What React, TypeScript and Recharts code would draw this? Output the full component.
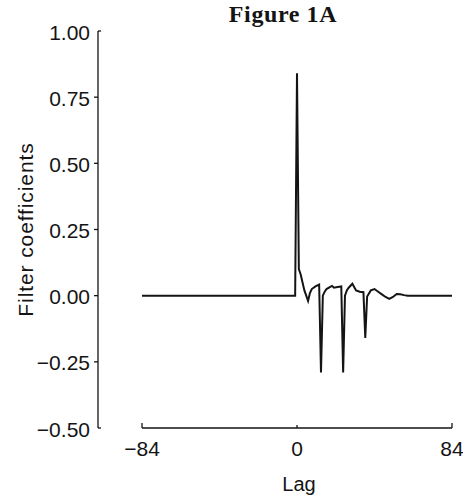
import { Line, LineChart, XAxis, YAxis } from "recharts";

// lag positions and the filter coefficients
const lags = [
  -84, -1, 0, 1, 2, 3, 4, 5, 6, 7, 8,
  10, 12, 13, 14, 15, 16, 18, 19, 20, 22, 24, 25,
  26, 27, 28, 30, 32, 34, 36, 37, 38,
  40, 42, 44, 46, 48, 50, 52, 54, 56, 58, 60, 84,
];
const coefficients = [
  0, 0, 0.84, 0.1, 0.08, 0.05, 0.02, 0.0, -0.02, 0.01, 0.025,
  0.035, 0.042, -0.29, 0.0, 0.015, 0.025, 0.033, 0.037, 0.03, 0.033, 0.035, -0.29,
  0.0, 0.02, 0.03, 0.045, 0.02, 0.015, 0.013, -0.16, -0.003,
  0.02, 0.025, 0.015, 0.005, -0.005, -0.012, -0.005, 0.006, 0.005, 0.002, 0, 0,
];
const xTicks = [-84, 0, 84];
const yTicks = [-0.5, -0.25, 0, 0.25, 0.5, 0.75, 1];

const data = lags.map((lag, i) => ({ lag, value: coefficients[i] }));

const SANS = '"Liberation Sans", Arial, Helvetica, sans-serif';
const SERIF = '"Liberation Serif", "Times New Roman", Times, serif';
const INK = "#141414";

function signed(v: number, digits: number) {
  const s = Math.abs(v).toFixed(digits);
  return v < 0 ? "\u2212" + s : s;
}

type TickProps = { x?: number; y?: number; payload?: { value: number } };

function LagTick({ x = 0, y = 0, payload }: TickProps) {
  const v = payload?.value ?? 0;
  const hook = v === 0 ? 3 : 5;
  return (
    <g>
      <line x1={x} y1={y} x2={x} y2={y - hook} stroke={INK} strokeWidth={1.3} />
      <text x={x} y={y + 28} textAnchor="middle" fontSize={21} fontFamily={SANS} fill={INK}>
        {signed(v, 0)}
      </text>
    </g>
  );
}

function CoefTick({ x = 0, y = 0, payload }: TickProps) {
  const v = payload?.value ?? 0;
  const isEnd = v === yTicks[0] || v === yTicks[yTicks.length - 1];
  return (
    <g>
      {isEnd ? (
        <line x1={x} y1={y} x2={x + 3} y2={y} stroke={INK} strokeWidth={1.3} />
      ) : (
        <line x1={x} y1={y} x2={x - 4} y2={y} stroke={INK} strokeWidth={1.3} />
      )}
      <text x={x - 8} y={y + 1} textAnchor="end" dominantBaseline="central" fontSize={21} fontFamily={SANS} fill={INK}>
        {signed(v, 2)}
      </text>
    </g>
  );
}

type LabelProps = { viewBox?: { x?: number; y?: number; width?: number; height?: number } };

function CoefLabel({ viewBox }: LabelProps) {
  const top = viewBox?.y ?? 31;
  const h = viewBox?.height ?? 397;
  const cx = 33;
  const cy = top + h / 2;
  return (
    <text
      x={cx}
      y={cy}
      transform={`rotate(-90 ${cx} ${cy})`}
      textAnchor="middle"
      fontSize={21}
      letterSpacing={0.9}
      fontFamily={SANS}
      fill={INK}
    >
      Filter coefficients
    </text>
  );
}

function LagLabel({ viewBox }: LabelProps) {
  const left = viewBox?.x ?? 98;
  const w = viewBox?.width ?? 354;
  const top = viewBox?.y ?? 428;
  return (
    <text x={left + 44 + (w - 44) / 2 + 2} y={top + 63} textAnchor="middle" fontSize={20} fontFamily={SANS} fill={INK}>
      Lag
    </text>
  );
}

export default function App() {
  return (
    <div style={{ position: "absolute", left: 0, top: 0, width: 463, height: 502, background: "#fff" }}>
      <div
        style={{
          position: "absolute",
          left: 183,
          top: 0,
          width: 200,
          textAlign: "center",
          fontFamily: SERIF,
          fontWeight: "bold",
          fontSize: 24,
          lineHeight: "28px",
          letterSpacing: 0.6,
          color: INK,
          zIndex: 1,
        }}
      >
        Figure 1A
      </div>
      <LineChart width={463} height={502} data={data} margin={{ top: 31, right: 11, bottom: 0, left: 0 }}>
        <XAxis
          type="number"
          dataKey="lag"
          domain={[-84, 84]}
          ticks={xTicks}
          padding={{ left: 44, right: 0 }}
          height={74}
          tickSize={0}
          tickMargin={0}
          tickLine={false}
          axisLine={{ stroke: INK, strokeWidth: 1.3, strokeDasharray: "0 44 310 100" }}
          tick={<LagTick />}
          label={<LagLabel />}
        />
        <YAxis
          type="number"
          domain={[-0.5, 1]}
          ticks={yTicks}
          width={98}
          tickSize={0}
          tickMargin={0}
          tickLine={false}
          axisLine={{ stroke: INK, strokeWidth: 1.3 }}
          tick={<CoefTick />}
          label={<CoefLabel />}
        />
        <Line
          type="linear"
          dataKey="value"
          stroke={INK}
          strokeWidth={2}
          dot={false}
          isAnimationActive={false}
        />
      </LineChart>
    </div>
  );
}
